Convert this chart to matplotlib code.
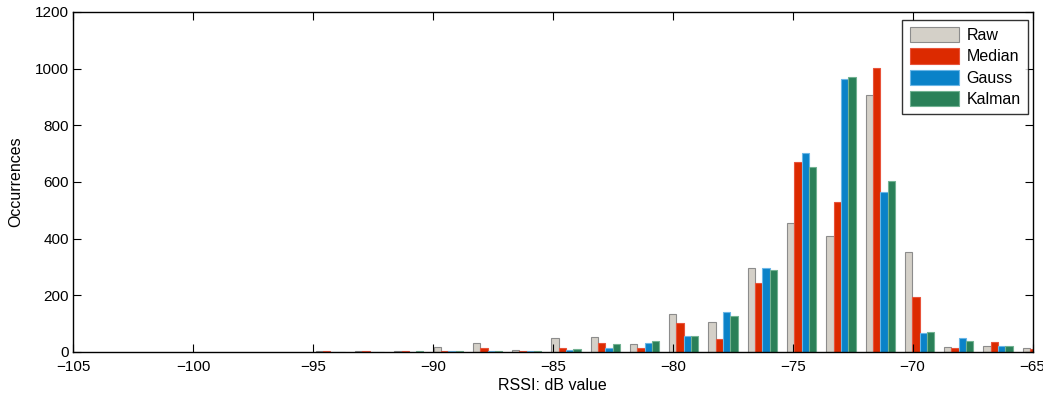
import numpy as np
import matplotlib.pyplot as plt

plt.rcParams['font.family'] = ['Liberation Sans', 'DejaVu Sans']

# bin centres (dB) and counts per filter
bin_centers = [-94.27, -92.64, -91.00, -89.36, -87.72, -86.09, -84.45, -82.81, -81.17, -79.54,
               -77.90, -76.26, -74.63, -72.99, -71.35, -69.71, -68.08, -66.44, -64.80]
raw = [3, 3, 3, 18, 30, 8, 48, 53, 27, 135, 106, 296, 455, 410, 907, 354, 18, 21, 13]
median = [3, 2, 2, 3, 15, 5, 15, 32, 14, 101, 44, 245, 672, 529, 1003, 193, 14, 35, 9]
gauss = [1, 1, 1, 5, 2, 5, 6, 14, 32, 57, 141, 297, 703, 962, 564, 66, 49, 22, 3]
kalman = [1, 1, 5, 5, 2, 5, 9, 28, 40, 57, 128, 289, 652, 970, 602, 70, 40, 22, 0]

labels = ['Raw', 'Median', 'Gauss', 'Kalman']
colors = ['#d4d0c8', '#dc2a00', '#0a82c8', '#2a8058']
edges = ['#8c8c8c', '#e8533a', '#6ab6e6', '#72b292']

fig = plt.figure(figsize=(10.43, 3.99), dpi=100)
ax = fig.add_axes([0.070, 0.118, 0.920, 0.852])

x = np.array(bin_centers)
w = 0.305
for i, (vals, c, ec, lab) in enumerate(zip([raw, median, gauss, kalman], colors, edges, labels)):
    ax.bar(x + (i - 1.5) * w, vals, width=w, color=c, edgecolor=ec, linewidth=0.8, label=lab)

ax.set_xlim(-105, -65)
ax.set_ylim(0, 1200)
ax.set_xticks(np.arange(-105, -64, 5))
ax.set_yticks(np.arange(0, 1201, 200))
ax.tick_params(direction='in', length=5.5, width=0.8, top=True, right=True, labelsize=11)
ax.tick_params(axis='x', pad=6)
ax.tick_params(axis='y', pad=3)
for s in ax.spines.values():
    s.set_linewidth(1.0)

ax.set_xlabel('RSSI: dB value', fontsize=11.5, labelpad=3)
ax.set_ylabel('Occurrences', fontsize=11.5, labelpad=8)

leg = ax.legend(loc='upper right', bbox_to_anchor=(0.9948, 0.9765), borderaxespad=0,
                fancybox=False, edgecolor='black', fontsize=11.5,
                handlelength=3.1, handleheight=1.1, labelspacing=0.32,
                handletextpad=0.45, borderpad=0.45)
leg.get_frame().set_linewidth(1.0)

fig.savefig('out.png', dpi=100)
